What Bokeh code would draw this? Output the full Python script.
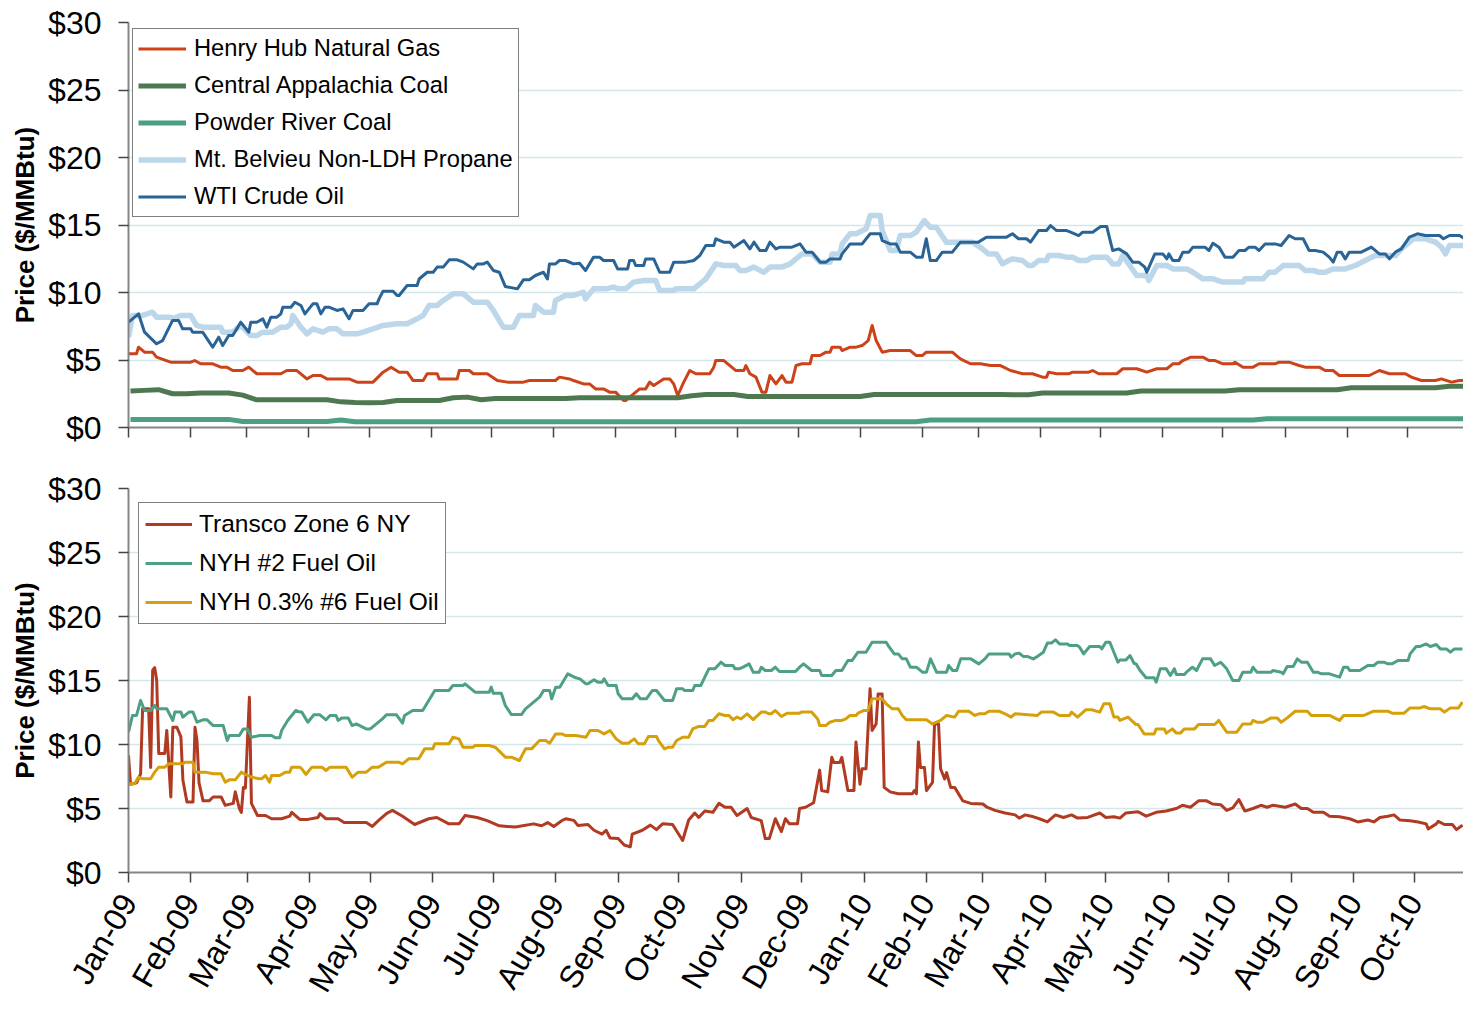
import math
from datetime import datetime, timedelta
import pandas as pd
from bokeh.plotting import figure
from bokeh.layouts import column
from bokeh.models import (Range1d, FixedTicker, MonthsTicker, DatetimeTickFormatter,
                          PrintfTickFormatter, CustomJSTickFormatter)
from bokeh.embed import file_html
from bokeh.resources import INLINE

# ---------------- data ----------------
# (day after 2009-01-01, $/MMBtu) readings
henry_hub = [(0,5.46),(4,5.46),(5,5.95),(8,5.58),(12,5.58),(14,5.21),(21,4.84),(31,4.84),(33,4.96),(36,4.72),(42,4.72),(46,4.47),(49,4.47),(52,4.22),(57,4.22),(60,4.47),(64,3.98),(76,3.98),(79,4.22),(84,4.22),(89,3.6),(92,3.85),(96,3.85),(99,3.6),(110,3.6),(114,3.36),(122,3.36),(127,4.1),(131,4.47),(135,4.1),(139,4.1),(142,3.48),(147,3.48),(149,3.98),(154,3.98),(155,3.6),(164,3.6),(165,4.22),(170,4.22),(172,3.98),(179,3.98),(184,3.48),(189,3.36),(197,3.36),(200,3.48),(213,3.48),(215,3.73),(220,3.6),
             (222,3.48),(227,3.23),(230,3.23),(233,2.86),(237,2.86),(240,2.62),(243,2.62),(247,2.0),(248,2.0),(252,2.49),(255,2.86),(258,2.86),(260,3.36),(262,3.11),(267,3.6),(270,3.6),(272,3.23),(274,2.37),(277,3.36),(280,4.22),(283,3.98),(290,3.98),(292,4.47),(293,4.96),(297,4.96),(300,4.59),(303,4.22),(307,4.22),(308,4.59),(310,3.98),(313,3.73),(316,2.62),(318,2.62),(320,3.85),(323,3.23),(326,3.85),(328,3.36),(331,3.36),(333,4.59),(336,4.72),(340,4.72),(341,5.33),(345,5.33),(348,5.58),(350,5.58),(351,5.95),(355,5.95),(356,5.7),(360,5.95),(363,5.95),(366,6.07),(369,6.44),(371,7.56),(373,6.44),(376,5.58),(380,5.7),(390,5.7),(393,5.33),(396,5.33),(398,5.58),(411,5.58),(415,5.09),(420,4.72),(425,4.72),(430,4.59),(435,4.59),(440,4.22),
             (446,3.98),(451,3.98),(456,3.73),(458,3.73),(459,4.1),(463,3.98),(469,3.98),(471,4.1),(479,4.1),(481,4.22),(484,3.98),(493,3.98),(496,4.35),(503,4.35),(508,4.1),(513,4.35),(518,4.35),(521,4.72),(524,4.72),(526,4.96),(530,5.21),(536,5.21),(539,4.96),(542,4.96),(546,4.72),(551,4.72),(552,4.84),(556,4.47),(561,4.47),(564,4.72),(572,4.72),(574,4.84),(579,4.84),(584,4.59),(587,4.47),(594,4.47),(597,4.22),(601,4.22),(604,3.85),(619,3.85),(624,4.22),(629,3.98),(637,3.98),(640,3.73),(645,3.48),(652,3.48),(655,3.6),(660,3.36),(664,3.48),(667,3.48)]

propane = [(0,6.69),(2,8.3),(7,8.3),(12,8.54),(14,8.17),(21,8.17),(22,8.05),(26,8.3),(31,8.3),(34,7.56),(37,7.43),(46,7.43),(47,7.06),(52,7.06),(56,7.56),(61,6.81),(64,6.81),(67,7.06),(72,7.06),(76,7.43),(79,7.43),(81,7.68),(82,8.3),(86,7.43),(89,6.94),(92,7.31),(97,7.06),(100,7.31),(104,7.31),(107,6.94),(114,6.94),(117,7.06),(122,7.31),(127,7.56),(134,7.68),(139,7.68),(144,8.05),(147,8.3),(150,9.04),(154,9.04),(157,9.41),(162,9.9),(167,9.9),(169,9.65),(172,9.28),(179,9.28),(182,8.67),(187,7.43),(192,7.43),(195,8.3),(202,8.3),(203,9.04),(207,8.54),(212,8.54),(213,9.41),(218,9.78),(222,9.78),
           (227,10.02),(228,9.53),(232,10.27),(238,10.27),(242,10.4),(244,10.27),(248,10.27),(252,10.77),(257,10.89),(263,10.89),(265,10.15),(272,10.15),(273,10.27),(282,10.27),(285,10.64),(288,11.01),(293,12.12),(297,12.0),(303,12.0),(305,11.63),(308,11.63),(312,11.88),(317,11.5),(320,11.88),(326,11.88),(330,12.12),(333,12.49),(336,12.86),(341,12.86),(345,12.25),(350,12.25),(351,12.86),(355,12.86),(356,13.6),(360,14.35),(363,14.35),(368,14.72),(370,15.7),(375,15.7),(376,14.59),(380,13.11),(383,13.11),(385,14.22),(390,14.22),(393,14.47),(397,15.33),(400,14.84),(403,14.84),(408,13.73),(413,13.73),(421,13.73),(426,13.23),(429,12.86),(433,12.86),(436,12.12),(439,12.37),
           (441,12.49),(446,12.37),(449,12.0),(451,12.0),(454,12.37),(458,12.37),(459,12.74),(464,12.74),(468,12.62),(471,12.62),(474,12.37),(478,12.37),(481,12.62),(488,12.62),(491,12.12),(494,12.12),(496,12.74),(503,11.26),(508,11.26),(509,10.89),(513,12.0),(518,12.0),(521,11.75),(528,11.75),(531,11.5),(536,11.01),(541,11.01),(546,10.77),(556,10.77),(557,11.01),(566,11.01),(569,11.5),(572,11.5),(576,12.0),(584,12.0),(587,11.63),(591,11.63),(594,11.5),(597,11.5),(601,11.75),(607,11.75),(612,12.0),(617,12.37),(622,12.74),(626,12.74),(632,12.74),(636,13.36),(641,13.98),(647,13.98),(652,13.73),(654,13.48),(655,13.36),(657,12.86),(659,13.48),(667,13.48)]

wti_crude = [(0,7.8),(5,8.42),(8,7.06),(14,6.2),(17,6.44),(22,7.93),(25,7.93),(27,7.31),(31,7.31),(32,7.06),(37,7.06),(42,5.95),(45,6.69),(47,6.07),(50,6.81),(52,6.81),(56,7.8),(60,7.06),(61,7.8),(64,7.8),(67,8.05),(69,7.43),(71,8.17),(74,8.17),(76,8.42),(77,8.91),(81,8.91),(83,9.28),(86,9.04),(88,8.42),(92,9.16),(94,9.16),(96,8.42),(98,8.91),(100,8.91),(104,8.67),(107,8.79),(110,8.05),(112,8.67),(117,8.67),(120,9.16),(124,9.16),(125,9.53),(127,10.1),(132,10.1),(134,9.78),(135,9.78),(139,10.52),(144,10.52),(145,11.0),(149,11.5),(152,11.5),(154,11.88),(157,11.88),(160,12.42),(164,12.42),(167,12.25),(172,11.75),(174,12.12),(177,12.12),(179,12.25),(182,11.63),(185,11.5),(188,10.44),(194,10.27),(197,10.94),(200,10.94),(203,11.26),(207,11.5),(209,11.0),(210,12.12),(213,12.12),(215,12.37),(218,12.37),(222,12.12),
             (225,12.17),(228,11.63),(232,12.62),(235,12.62),(237,12.37),(242,12.37),(244,11.75),(249,11.75),(250,12.37),(252,12.37),(253,12.0),(257,12.0),(258,12.49),(262,12.49),(265,11.5),(270,11.5),(272,12.25),(278,12.25),(282,12.37),(285,12.74),(288,13.48),(292,13.48),(293,13.98),(297,13.73),(300,13.73),(302,13.36),(307,13.85),(310,13.23),(312,13.73),(315,13.11),(318,13.11),(320,13.73),(323,13.23),(325,13.36),(331,13.36),(335,13.6),(338,12.99),(341,12.99),(345,12.25),(348,12.25),(350,12.49),(355,12.49),(356,12.86),(360,13.6),(366,13.6),(370,14.35),(375,14.35),(376,13.85),(380,13.6),(383,13.6),(385,12.99),(390,12.99),(393,12.62),(396,12.62),(398,13.98),(400,12.37),(403,12.37),(406,12.99),(411,12.99),(415,13.73),(424,13.73),(428,14.1),(438,14.1),(441,14.35),
             (444,13.98),(448,13.98),(450,13.73),(454,14.59),(458,14.59),(460,14.96),(463,14.59),(468,14.59),(470,14.47),(474,14.22),(476,14.47),(481,14.47),(485,14.89),(488,14.89),(491,13.11),(494,13.23),(498,12.86),(501,12.25),(504,12.25),(507,11.88),(508,11.5),(512,12.86),(516,12.86),(518,12.49),(519,12.86),(521,12.37),(524,12.37),(526,12.99),(529,12.99),(531,13.36),(537,13.36),(539,13.11),(541,13.65),(544,13.36),(547,12.62),(551,12.62),(554,13.11),(557,13.11),(559,13.36),(562,13.36),(564,13.11),(567,13.6),(572,13.6),(575,13.48),(579,14.22),(582,13.98),(586,13.98),(589,13.11),(592,13.11),(596,12.99),(599,12.62),(601,12.25),(603,12.99),(605,12.99),(607,12.49),(609,12.99),(615,12.99),(620,13.36),(624,12.86),(627,12.86),(629,12.49),(632,12.99),(635,13.23),(639,14.1),(643,14.35),(647,14.22),(654,14.22),(656,13.98),(659,14.22),(664,14.22),(666,14.05)]

# coal prices, weekly (Fridays from 2009-01-02)
weeks = pd.date_range("2009-01-02", "2010-10-29", freq="7D")
central_app_coal = [2.7, 2.75, 2.8, 2.5, 2.5, 2.55, 2.55, 2.55, 2.4, 2.05, 2.05, 2.05, 2.05, 2.05, 2.05, 1.9,
                    1.85, 1.83, 1.85, 2.0, 2.0, 2.0, 2.0, 2.2, 2.25, 2.05, 2.15, 2.15, 2.15, 2.15, 2.15, 2.15,
                    2.2, 2.2, 2.2, 2.2, 2.2, 2.2, 2.2, 2.2, 2.35, 2.45, 2.45, 2.45, 2.3, 2.3, 2.3, 2.3,
                    2.3, 2.3, 2.3, 2.3, 2.3, 2.45, 2.45, 2.45, 2.45, 2.45, 2.45, 2.45, 2.45, 2.45, 2.45,
                    2.42, 2.42, 2.55, 2.55, 2.55, 2.55, 2.55, 2.55, 2.55, 2.7, 2.7, 2.7, 2.7, 2.7, 2.7, 2.7,
                    2.8, 2.8, 2.8, 2.8, 2.8, 2.8, 2.8, 2.8, 2.95, 2.95, 2.95, 2.95, 2.95, 2.95, 2.95, 3.05, 3.05]
powder_river_coal = [0.6, 0.6, 0.6, 0.6, 0.6, 0.6, 0.6, 0.6, 0.45, 0.45, 0.45, 0.45, 0.45, 0.45, 0.45, 0.55,
                     0.43, 0.43, 0.43, 0.43, 0.43, 0.43, 0.43, 0.43, 0.43, 0.43, 0.43, 0.43, 0.43, 0.43, 0.43, 0.43,
                     0.43, 0.43, 0.43, 0.43, 0.43, 0.43, 0.43, 0.43, 0.43, 0.43, 0.43, 0.43, 0.43, 0.43, 0.43, 0.43,
                     0.43, 0.43, 0.43, 0.43, 0.43, 0.43, 0.43, 0.43, 0.43, 0.55, 0.55, 0.55, 0.55, 0.55, 0.55,
                     0.55, 0.55, 0.55, 0.55, 0.55, 0.55, 0.55, 0.55, 0.55, 0.55, 0.55, 0.55, 0.55, 0.55, 0.55, 0.55,
                     0.55, 0.55, 0.65, 0.65, 0.65, 0.65, 0.65, 0.65, 0.65, 0.65, 0.65, 0.65, 0.65, 0.65, 0.65, 0.65, 0.65]

nyh_2_fuel_oil = [(0,10.96),(2,12.27),(4,12.27),(6,13.44),(8,12.66),(11,12.66),(13,13.05),(14,12.79),(19,12.79),(22,11.88),(23,12.53),(26,12.53),(27,12.14),(30,12.53),(32,12.53),(34,11.74),(37,11.93),(39,11.93),(42,11.48),(47,11.48),(49,10.31),(50,10.7),(55,10.7),(57,11.22),(59,11.22),(61,10.57),(65,10.7),(71,10.7),(73,10.52),(75,10.52),(76,11.09),(79,11.88),(83,12.66),(85,12.53),(86,12.53),(89,11.74),(92,12.32),(95,12.32),(98,11.93),(100,12.27),(103,12.27),(104,11.88),(106,12.08),(109,12.08),(111,11.48),(113,11.61),(118,11.22),(120,11.22),(123,11.61),(126,12.0),(128,12.32),(133,12.32),(136,11.67),(137,12.27),(141,12.66),(146,12.66),(149,13.44),(152,14.22),(159,14.22),(161,14.61),(166,14.61),(167,14.74),(172,14.09),(179,14.09),(180,14.48),(181,14.01),(185,14.01),(187,13.05),(190,12.34),(195,12.34),(197,12.79),(200,13.18),(204,13.7),(206,14.22),(209,14.22),(210,13.57),(212,14.48),(214,14.48),(218,15.52),(222,15.21),
                  (224,15.13),(227,14.74),(228,14.74),(231,15.05),(233,14.87),(235,14.87),(236,15.13),(238,14.61),(242,14.61),(243,13.96),(245,13.57),(250,13.57),(252,13.96),(254,13.57),(257,13.57),(260,14.22),(262,14.22),(266,13.44),(270,13.44),(272,14.35),(275,14.35),(276,14.22),(280,14.22),(281,14.61),(284,14.61),(286,15.26),(288,15.91),(291,15.91),(294,16.43),(296,16.17),(300,16.17),(301,15.91),(303,15.91),(305,16.04),(308,16.3),(310,15.65),(313,15.65),(314,16.04),(316,15.78),(319,15.78),(321,16.04),(323,15.7),(331,15.7),(333,16.04),(335,16.3),(339,15.78),(343,15.78),(344,15.39),(349,15.39),(351,15.78),(354,15.78),(357,16.56),(359,16.56),(362,17.21),(366,17.21),(369,17.99),(376,17.99),(377,17.73),(380,17.08),(382,17.08),(384,16.69),(386,16.69),(388,16.04),(391,16.04),(394,15.65),(396,15.65),(398,16.69),(401,15.65),(406,15.65),(407,16.17),(409,15.78),(411,15.78),(413,16.69),(418,16.69),(422,16.3),(425,16.69),(427,17.08),(437,17.08),(438,16.82),(440,17.08),
                  (442,17.14),(444,16.88),(446,16.88),(449,16.69),(451,16.88),(454,17.21),(456,17.92),(458,17.92),(460,18.18),(462,17.86),(466,17.86),(467,17.73),(471,17.73),(472,17.6),(474,17.08),(477,17.66),(482,17.66),(483,17.47),(485,17.99),(487,17.99),(491,16.43),(492,16.61),(495,16.61),(497,16.95),(499,16.35),(500,16.3),(502,15.78),(505,15.21),(509,15.21),(510,14.87),(512,15.91),(515,15.91),(517,15.39),(519,15.91),(520,15.47),(524,15.47),(525,15.65),(528,16.04),(530,15.78),(533,16.69),(537,16.69),(539,16.17),(542,16.43),(545,15.91),(548,15.0),(551,15.0),(553,15.65),(557,15.65),(558,16.04),(560,15.65),(567,15.65),(568,15.78),(572,15.65),(573,15.52),(575,16.09),(578,16.09),(580,16.69),(582,16.43),(585,16.43),(588,15.65),(590,15.65),(592,15.52),(596,15.52),(601,15.26),(603,16.04),(605,16.04),(606,15.78),(611,15.78),(615,16.17),(618,16.17),(620,16.43),(623,16.43),(625,16.3),(627,16.3),(630,16.56),(635,16.56),(636,17.08),(639,17.66),(641,17.66),(644,17.86),(646,17.66),(649,17.81),(651,17.47),(654,17.47),(656,17.21),(658,17.47),(662,17.47)]

nyh_6_fuel_oil = [(0,6.93),(3,6.93),(5,7.45),(7,7.32),(11,7.32),(13,7.84),(15,8.23),(18,8.23),(20,8.49),(27,8.49),(28,8.62),(32,8.62),(33,7.84),(38,7.84),(42,7.71),(46,7.71),(48,7.06),(50,7.24),(53,7.24),(56,7.84),(58,7.66),(61,7.45),(65,7.32),(66,7.32),(68,7.58),(70,7.06),(71,7.58),(75,7.58),(78,7.84),(80,7.84),(81,8.23),(85,8.23),(86,8.1),(88,7.66),(91,8.23),(96,8.23),(98,7.97),(100,8.23),(108,8.23),(111,7.45),(114,7.84),(118,7.84),(121,8.23),(124,8.23),(128,8.62),(134,8.62),(136,8.49),(139,8.88),(144,8.88),(147,9.66),(151,9.66),(152,10.05),(159,10.05),(161,10.57),(164,10.44),(166,9.79),(171,9.79),(172,9.92),(179,9.92),(182,9.79),(187,9.01),(190,9.01),(194,8.75),(197,9.66),(200,9.66),(204,10.31),(207,10.31),(209,10.1),(212,10.83),(215,10.83),(217,10.7),(222,10.7),
                  (227,10.57),(229,11.09),(233,11.09),(236,10.83),(239,11.09),(242,10.44),(245,10.1),(248,10.1),(251,10.44),(253,10.05),(256,10.05),(258,10.63),(262,10.63),(263,10.31),(266,9.66),(268,9.79),(270,9.79),(272,10.31),(275,10.57),(278,10.57),(280,11.22),(283,11.41),(286,11.41),(288,11.88),(290,11.88),(293,12.4),(296,12.27),(298,12.27),(300,11.93),(302,12.14),(304,12.0),(307,12.4),(310,11.95),(314,12.53),(316,12.53),(318,12.4),(319,12.4),(321,12.66),(324,12.19),(327,12.45),(333,12.45),(334,12.53),(339,12.53),(342,12.0),(343,11.48),(346,11.48),(348,11.74),(351,11.88),(354,11.88),(356,12.0),(358,12.27),(361,12.27),(362,12.45),(365,12.66),(367,12.66),(369,13.57),(374,13.57),(376,13.18),(379,12.79),(382,12.79),(384,12.27),(386,11.93),(396,11.93),(399,11.61),(403,11.88),(406,12.27),(410,12.14),(412,12.6),(417,12.6),(420,12.27),(422,12.4),(425,12.4),(427,12.6),(432,12.6),(435,12.4),(438,12.14),(440,12.4),
                  (451,12.27),(453,12.53),(459,12.53),(462,12.27),(467,12.27),(468,12.53),(471,12.14),(475,12.71),(478,12.71),(482,12.53),(484,13.18),(487,13.18),(489,12.14),(491,12.14),(492,11.88),(496,12.14),(500,11.56),(501,11.56),(504,10.83),(509,10.83),(510,11.22),(514,11.22),(515,10.89),(518,11.22),(520,10.89),(522,10.89),(524,11.22),(529,11.22),(531,11.56),(539,11.56),(541,11.88),(545,10.96),(550,10.96),(553,11.61),(557,11.61),(558,11.88),(560,11.74),(563,11.74),(567,12.08),(570,12.08),(572,11.74),(575,12.08),(579,12.6),(585,12.6),(587,12.27),(593,12.27),(596,12.27),(601,11.88),(603,12.27),(613,12.27),(618,12.6),(625,12.6),(627,12.45),(633,12.45),(636,12.86),(641,12.86),(643,12.97),(646,12.79),(651,12.79),(653,12.53),(656,12.86),(660,12.86),(662,13.31)]

transco_day = [0, 1, 4, 6, 7, 10, 11, 12, 13, 14, 15, 18, 19, 21, 22, 24, 26, 27, 29, 32, 33, 34, 35, 37, 40,
               42, 46, 48, 52, 53, 55, 56, 57, 58, 60, 61, 64, 68, 71, 76, 80, 81, 85, 89, 94, 95, 98, 104,
               107, 118, 121, 124, 128, 131, 136, 142, 149, 153, 159, 164, 167, 173, 178, 184, 192, 201, 205,
               208, 211, 215, 217, 221, 223, 228, 231, 235, 237, 239, 243, 246, 249, 250, 255, 259, 262, 265,
               270, 275, 278, 281, 283, 286, 290, 293, 296, 299, 302, 307, 309, 314, 316, 318, 321, 324, 326,
               328, 332, 333, 336, 340, 343, 344, 347, 349, 350, 353, 354, 357, 360, 361, 363, 364, 366, 368,
               369, 371, 372, 374, 375, 378, 382, 389, 390, 391, 392, 393, 395, 396, 399, 400, 402, 403, 405,
               406, 408, 410, 414, 418, 424, 426, 430, 435, 440, 442, 445, 448, 452, 456, 460, 464, 468, 471,
               476, 482, 485, 489, 492, 495, 501, 505, 510, 515, 520, 523, 527, 531, 535, 538, 542, 545, 548,
               551, 554, 558, 562, 565, 568, 574, 579, 582, 585, 588, 593, 596, 601, 606, 610, 615, 618, 621,
               625, 628, 631, 636, 640, 644, 645, 649, 650, 653, 657, 659, 662]
transco_z6 = [9.15, 6.9, 7.0, 7.7, 12.8, 12.8, 8.2, 15.8, 16.0, 15.0, 9.3, 9.3, 11.1, 5.9, 11.35, 11.35, 10.6,
              7.2, 5.5, 5.5, 11.35, 10.3, 7.0, 5.6, 5.6, 5.9, 5.9, 5.25, 5.4, 6.3, 5.0, 4.7, 6.65, 6.6, 13.7,
              5.4, 4.45, 4.45, 4.2, 4.2, 4.4, 4.7, 4.15, 4.15, 4.3, 4.6, 4.2, 4.2, 3.9, 3.9, 3.6, 4.05, 4.6,
              4.85, 4.4, 3.75, 4.2, 4.3, 3.8, 3.8, 4.45, 4.3, 4.05, 3.65, 3.55, 3.8, 3.65, 3.9, 3.6, 4.05,
              4.2, 4.07, 3.68, 3.75, 3.3, 3.0, 3.3, 2.7, 2.65, 2.15, 2.0, 3.0, 3.3, 3.7, 3.35, 3.8, 3.75, 2.5,
              4.1, 4.65, 4.3, 4.8, 4.7, 5.4, 5.1, 5.1, 4.45, 5.0, 4.3, 4.05, 2.65, 2.65, 4.2, 3.2, 4.2, 3.8,
              3.8, 5.0, 5.1, 5.45, 8.0, 6.4, 6.3, 9.0, 8.6, 8.6, 9.0, 6.4, 6.4, 10.2, 6.9, 8.1, 8.1, 14.35,
              11.1, 11.6, 13.95, 13.95, 6.65, 6.3, 6.15, 6.15, 6.4, 6.15, 10.2, 8.2, 8.2, 6.4, 7.05, 11.6,
              11.6, 8.1, 7.3, 7.8, 6.65, 6.65, 5.6, 5.4, 5.35, 5.1, 4.85, 4.65, 4.5, 4.25, 4.5, 4.4, 4.2,
              3.95, 4.5, 4.3, 4.5, 4.25, 4.3, 4.65, 4.3, 4.35, 4.25, 4.65, 4.75, 4.4, 4.7, 4.8, 5.0, 5.25,
              5.1, 5.6, 5.6, 5.35, 5.3, 4.85, 5.05, 5.7, 4.8, 5.0, 5.25, 5.1, 5.25, 5.1, 5.35, 5.0, 5.0, 4.7,
              4.7, 4.4, 4.35, 4.2, 3.95, 4.1, 3.95, 4.3, 4.4, 4.5, 4.1, 4.05, 3.95, 3.8, 3.4, 3.8, 4.0, 3.75,
              3.75, 3.35, 3.7]

y_ticks = [0, 5, 10, 15, 20, 25, 30]
y_title = "Price ($/MMBtu)"

BASE = pd.Timestamp("2009-01-01")


def to_xy(points):
    days, vals = zip(*points)
    return BASE + pd.to_timedelta(list(days), unit="D"), list(vals)


top_series = [("Henry Hub Natural Gas",) + to_xy(henry_hub) + ("#CC4219", 3),
              ("Central Appalachia Coal", weeks, central_app_coal, "#4E7850", 5),
              ("Powder River Coal", weeks, powder_river_coal, "#4BA082", 5),
              ("Mt. Belvieu Non-LDH Propane",) + to_xy(propane) + ("#BDD7EA", 5.5),
              ("WTI Crude Oil",) + to_xy(wti_crude) + ("#2A6496", 3)]

bottom_series = [("Transco Zone 6 NY", BASE + pd.to_timedelta(transco_day, unit="D"), transco_z6, "#B03A22", 3),
                 ("NYH #2 Fuel Oil",) + to_xy(nyh_2_fuel_oil) + ("#4DA084", 3),
                 ("NYH 0.3% #6 Fuel Oil",) + to_xy(nyh_6_fuel_oil) + ("#D6A00A", 3)]

FONT = "Liberation Sans"
start = datetime(2009, 1, 1)


def style(p, show_labels):
    p.outline_line_color = None
    p.background_fill_color = "white"
    p.border_fill_color = "white"
    p.xgrid.visible = False
    p.ygrid.grid_line_color = "#D3E6EA"
    p.ygrid.grid_line_width = 1.5
    p.yaxis.ticker = FixedTicker(ticks=y_ticks)
    p.yaxis.formatter = PrintfTickFormatter(format="$%d")
    p.xaxis.ticker = MonthsTicker(months=list(range(12)))
    for ax in (p.xaxis[0], p.yaxis[0]):
        ax.axis_line_color = "#858585"
        ax.axis_line_width = 2
        ax.major_tick_line_color = "#444444"
        ax.major_tick_line_width = 1.5
        ax.major_tick_in = 0
        ax.major_tick_out = 10
        ax.minor_tick_line_color = None
        ax.major_label_text_font = FONT
        ax.major_label_text_font_size = "32px"
        ax.major_label_text_color = "black"
    p.yaxis.major_label_standoff = 17
    p.yaxis.axis_label = y_title
    p.yaxis.axis_label_text_font = FONT
    p.yaxis.axis_label_text_font_style = "bold"
    p.yaxis.axis_label_text_font_size = "26px"
    p.yaxis.axis_label_text_color = "black"
    p.yaxis.axis_label_standoff = 5
    if show_labels:
        p.xaxis.formatter = DatetimeTickFormatter(months="%b-%y", days="%b-%y", years="%b-%y")
        p.xaxis.major_label_orientation = math.pi / 3
        p.xaxis.major_label_standoff = 14
    else:
        p.xaxis.formatter = CustomJSTickFormatter(code="return ''")
        p.xaxis.major_label_text_font_size = "1px"
        p.xaxis.major_label_standoff = 0


def style_legend(p, loc, font_size, gh, spacing, padding, gw, standoff):
    lg = p.legend[0]
    lg.location = loc
    lg.margin = 0
    lg.padding = padding
    lg.spacing = spacing
    lg.glyph_width = gw
    lg.glyph_height = gh
    lg.label_height = gh
    lg.label_standoff = standoff
    lg.label_text_font = FONT
    lg.label_text_font_size = font_size
    lg.label_text_color = "black"
    lg.border_line_color = "black"
    lg.border_line_width = 1.2
    lg.background_fill_color = "white"
    lg.background_fill_alpha = 1.0


top = figure(width=1463, height=457, x_axis_type="datetime",
             x_range=Range1d(start, start + timedelta(days=666)), y_range=Range1d(0, 30),
             output_backend="svg", toolbar_location=None, title=None,
             min_border_left=125, min_border_right=0, min_border_top=22, min_border_bottom=30)
for name, xs, vals, color, lw in top_series:
    top.line(xs, vals, line_color=color, line_width=lw, line_join="round", legend_label=name)
style(top, False)
style_legend(top, (4, 210), "23.7px", 29, 8, 5, 48, 8)

bottom = figure(width=1463, height=552, x_axis_type="datetime",
                x_range=Range1d(start, start + timedelta(days=662.5)), y_range=Range1d(0, 30),
                output_backend="svg", toolbar_location=None, title=None,
                min_border_left=128, min_border_right=0, min_border_top=31, min_border_bottom=137)
for name, xs, vals, color, lw in bottom_series:
    bottom.line(xs, vals, line_color=color, line_width=lw, line_join="round", legend_label=name)
style(bottom, True)
style_legend(bottom, (10, 248), "24.5px", 30, 9, 6, 47, 7)

layout = column(top, bottom, spacing=0)
open("out.html", "w").write(file_html(layout, INLINE))
